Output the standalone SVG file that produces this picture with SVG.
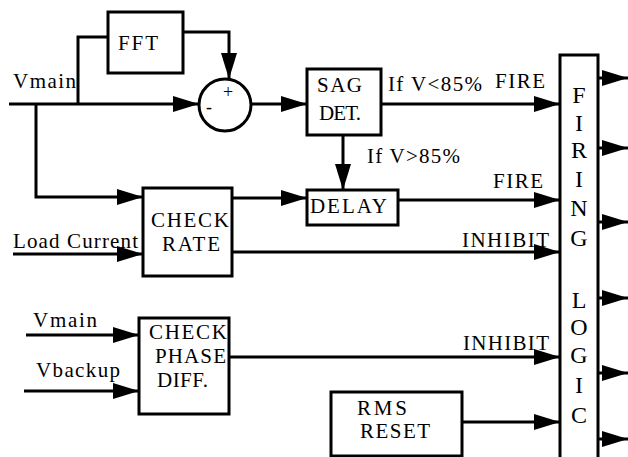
<svg xmlns="http://www.w3.org/2000/svg" width="628" height="457" viewBox="0 0 628 457">
<style>
.b{fill:#fff;stroke:#000;stroke-width:3}
.l{fill:none;stroke:#000;stroke-width:3}
.a{fill:none;stroke:#000;stroke-width:3;marker-end:url(#ah)}
.t{font-size:21px;fill:#000}
.big{font-size:24px;text-anchor:middle;fill:#000}
.sm{font-size:18px;text-anchor:middle;fill:#000}
</style>
<defs>
<marker id="ah" viewBox="0 0 26 16" refX="26" refY="8" markerWidth="26" markerHeight="16" markerUnits="userSpaceOnUse" orient="auto">
<path d="M0,0 L26,8 L0,16 Z" fill="#000"/>
</marker>
</defs>
<rect width="628" height="457" fill="#fff"/>

<g id="connectors">
<path class="a" d="M9,104 H199"/>
<path class="l" d="M78,104 V37 H108"/>
<path class="a" d="M183,32 H229 V79"/>
<path class="a" d="M251,104 H307"/>
<path class="a" d="M381,104 H560"/>
<path class="a" d="M343,135 V190"/>
<path class="a" d="M36,104 V197 H143"/>
<path class="a" d="M232,198 H307"/>
<path class="a" d="M398,200 H560"/>
<path class="a" d="M13,254 H143"/>
<path class="a" d="M232,252 H560"/>
<path class="a" d="M26,335 H139"/>
<path class="a" d="M24,391 H139"/>
<path class="a" d="M229,357 H560"/>
<path class="a" d="M462,422 H560"/>
<path class="a" d="M598,78 H628"/>
<path class="a" d="M598,148 H628"/>
<path class="a" d="M598,222 H628"/>
<path class="a" d="M598,298 H628"/>
<path class="a" d="M598,373 H628"/>
<path class="a" d="M598,439 H628"/>
</g>

<g font-family="Liberation Serif, Times New Roman, Times, serif">
<g id="labels">
<text class="t" x="13" y="88" textLength="63">Vmain</text>
<text class="t" x="388" y="91" textLength="94">If V&lt;85%</text>
<text class="t" x="495" y="88" textLength="50">FIRE</text>
<text class="t" x="367" y="163" textLength="93">If V&gt;85%</text>
<text class="t" x="493" y="188" textLength="50">FIRE</text>
<text class="t" x="13" y="248" textLength="125">Load Current</text>
<text class="t" x="462" y="247" textLength="87">INHIBIT</text>
<text class="t" x="33" y="327" textLength="64">Vmain</text>
<text class="t" x="36" y="377" textLength="84">Vbackup</text>
<text class="t" x="463" y="350" textLength="86">INHIBIT</text>
</g>

<g id="fft">
<rect class="b" x="108" y="12" width="75" height="61"/>
<text class="t" x="118" y="50" textLength="40">FFT</text>
</g>

<g id="sum">
<circle class="b" cx="225" cy="105" r="26"/>
<text class="sm" x="228" y="98">+</text>
<text class="sm" x="209" y="113">-</text>
</g>

<g id="sag">
<rect class="b" x="307" y="69" width="74" height="66"/>
<text class="t" x="317" y="92" textLength="45">SAG</text>
<text class="t" x="319" y="120" textLength="42">DET.</text>
</g>

<g id="delay">
<rect class="b" x="307" y="190" width="91" height="35"/>
<text class="t" x="310" y="213" textLength="77">DELAY</text>
</g>

<g id="checkrate">
<rect class="b" x="143" y="188" width="89" height="88"/>
<text class="t" x="151" y="227" textLength="78">CHECK</text>
<text class="t" x="162" y="251" textLength="58">RATE</text>
</g>

<g id="checkphase">
<rect class="b" x="139" y="318" width="90" height="96"/>
<text class="t" x="149" y="339" textLength="78">CHECK</text>
<text class="t" x="155" y="363" textLength="71">PHASE</text>
<text class="t" x="157" y="387" textLength="51">DIFF.</text>
</g>

<g id="rmsreset">
<rect class="b" x="331" y="392" width="131" height="64"/>
<text class="t" x="357" y="415" textLength="50">RMS</text>
<text class="t" x="360" y="438" textLength="70">RESET</text>
</g>

<g id="firing">
<rect class="b" x="560" y="55" width="38" height="420"/>
<text class="big" x="579" y="103">F</text>
<text class="big" x="579" y="131">I</text>
<text class="big" x="579" y="158">R</text>
<text class="big" x="579" y="187">I</text>
<text class="big" x="579" y="216">N</text>
<text class="big" x="579" y="246">G</text>
<text class="big" x="579" y="308">L</text>
<text class="big" x="579" y="335">O</text>
<text class="big" x="579" y="363">G</text>
<text class="big" x="579" y="393">I</text>
<text class="big" x="579" y="423">C</text>
</g>
</g>
</svg>
